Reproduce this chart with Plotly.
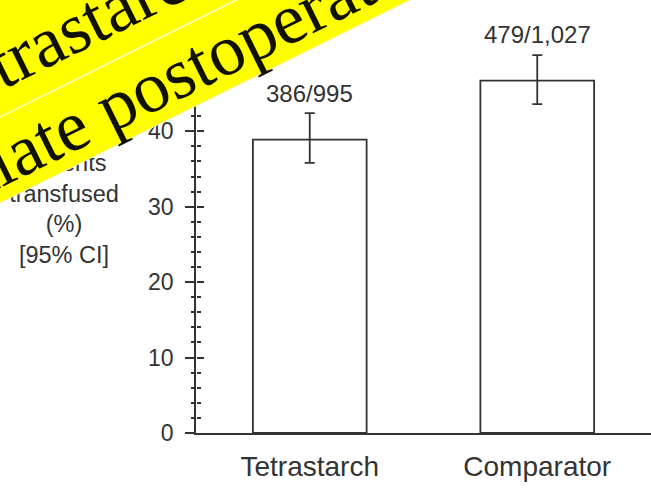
import plotly.graph_objects as go

# ---- data ----
groups = ["Tetrastarch", "Comparator"]
pct_transfused = [38.9, 46.7]
ci_low = [35.8, 43.6]
ci_high = [42.4, 50.1]
count_labels = ["386/995", "479/1,027"]
y_title_lines = ["Patients", "transfused", "(%)", "[95% CI]"]
banner_lines = ["Tetrastarch", "immediate postoperative"]

INK = "#333333"
W, H = 651, 493
PLOT_L, PLOT_B = 196, 433          # pixel position of the y axis / x axis
Y_MAX = 57.4


def px(xp):
    return xp / W


def py(yp):
    return 1 - yp / H


fig = go.Figure()
fig.add_trace(go.Bar(
    x=groups, y=pct_transfused, width=0.5,
    marker=dict(color="white", line=dict(color=INK, width=1.8)),
    error_y=dict(type="data",
                 array=[h - v for h, v in zip(ci_high, pct_transfused)],
                 arrayminus=[v - l for v, l in zip(pct_transfused, ci_low)],
                 color=INK, thickness=1.8, width=5),
    showlegend=False, hoverinfo="skip",
))
# invisible companion so the second (inside-tick) y axis is drawn
fig.add_trace(go.Scatter(x=groups, y=pct_transfused, yaxis="y2", mode="markers",
                         marker=dict(opacity=0), showlegend=False, hoverinfo="skip"))

# y-axis title as a text trace in a full-figure pixel frame (so the banner covers it)
fig.add_trace(go.Scatter(
    x=[64], y=[211], xaxis="x3", yaxis="y3",
    mode="text", text=["<br>".join(y_title_lines)], textposition="middle center",
    textfont=dict(family="Liberation Sans", size=23.5, color=INK),
    showlegend=False, hoverinfo="skip",
))

annotations = []
for g, v, lab in zip(groups, pct_transfused, count_labels):
    annotations.append(dict(x=g, y=v, xref="x", yref="y", text=lab, showarrow=False,
                            yanchor="middle", yshift=46,
                            font=dict(family="Liberation Sans", size=24, color=INK)))

# rotated yellow banner: bands as shapes, text as annotations
SLOPE = 0.495
edges = [203, 117]   # y-intercepts (px) of the lower edge and the separation line


def line_pts(b, x):
    return (x, b - SLOPE * x)


shapes = []
x0, x1 = -20, 720
pts_lo = [line_pts(edges[0], x0), line_pts(edges[0], x1), line_pts(edges[1], x1), line_pts(edges[1], x0)]
pts_hi = [line_pts(edges[1], x0), line_pts(edges[1], x1), (x1, -900), (x0, -900)]
for poly in (pts_lo, pts_hi):
    path = "M " + " L ".join(f"{px(a):.5f},{py(b):.5f}" for a, b in poly) + " Z"
    shapes.append(dict(type="path", path=path, xref="paper", yref="paper",
                       fillcolor="#ffff00", line=dict(width=0), layer="above"))
for b, col, w in ((edges[1], "#ffffa8", 2), (edges[0], "#f2f2b0", 1)):
    (ax, ay), (bx, by) = line_pts(b, x0), line_pts(b, x1)
    shapes.append(dict(type="line", xref="paper", yref="paper",
                       x0=px(ax), y0=py(ay), x1=px(bx), y1=py(by),
                       line=dict(color=col, width=w), layer="above"))

banner_centres = [(71.8, 29.4), (130.3, 96.9)]
for txt, (cx, cy) in zip(banner_lines, banner_centres):
    annotations.append(dict(x=px(cx), y=py(cy), xref="paper", yref="paper",
                            text=txt, showarrow=False, textangle=-26.3,
                            xanchor="center", yanchor="middle",
                            font=dict(family="Liberation Serif", size=72, color="#111100")))

fig.update_layout(
    width=W, height=H,
    margin=dict(l=0, r=0, t=0, b=0, pad=0, autoexpand=False),
    paper_bgcolor="white", plot_bgcolor="rgba(0,0,0,0)",
    bargap=0.5,
    annotations=annotations,
    shapes=shapes,
    xaxis=dict(domain=[PLOT_L / W, 1], range=[-0.5, 1.5], anchor="y", automargin=False,
               showline=True, linecolor=INK, linewidth=1.8,
               ticks="", showgrid=False, zeroline=False,
               tickfont=dict(family="Liberation Sans", size=28, color=INK),
               ticklabelstandoff=7),
    yaxis=dict(domain=[1 - PLOT_B / H, 1], range=[0, Y_MAX], anchor="x", automargin=False,
               tick0=0, dtick=10, showline=True, linecolor=INK,
               linewidth=1.8, ticks="outside", ticklen=9, tickwidth=1.8, tickcolor=INK,
               minor=dict(dtick=2, ticks="outside", ticklen=3, tickwidth=1.5, tickcolor=INK),
               showgrid=False, zeroline=False, ticklabelstandoff=7,
               tickfont=dict(family="Liberation Sans", size=23, color=INK)),
    yaxis2=dict(range=[0, Y_MAX], overlaying="y", side="left", anchor="free",
                position=PLOT_L / W, automargin=False,
                tick0=0, dtick=10, showline=False, ticks="inside", ticklen=7,
                tickwidth=1.8, tickcolor=INK,
                minor=dict(dtick=2, ticks="inside", ticklen=4, tickwidth=1.5, tickcolor=INK),
                showticklabels=False, showgrid=False, zeroline=False),
    xaxis3=dict(domain=[0, 1], range=[0, W], anchor="y3", visible=False, automargin=False),
    yaxis3=dict(domain=[0, 1], range=[H, 0], anchor="x3", visible=False, automargin=False),
)

fig.write_html("out.html")
